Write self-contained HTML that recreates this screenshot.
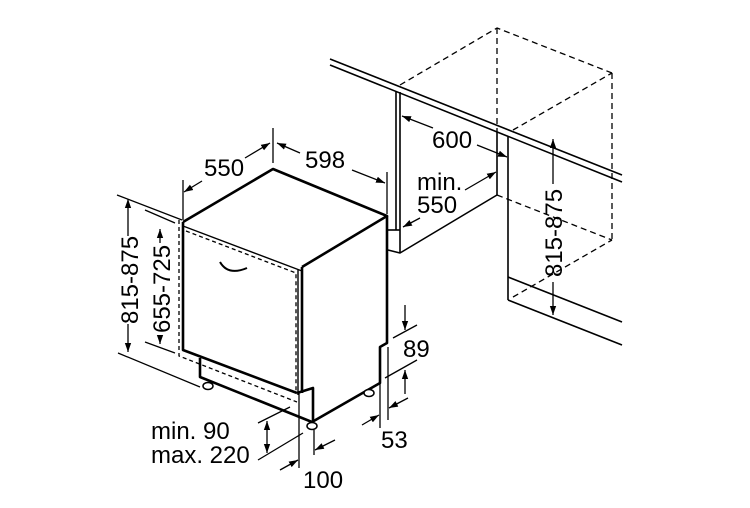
<!DOCTYPE html>
<html><head><style>
html,body{margin:0;padding:0;background:#fff;}
svg{display:block;}
text{font-family:"Liberation Sans",Arial,sans-serif;fill:#000;}
</style></head><body>
<svg width="750" height="508" viewBox="0 0 750 508" xmlns="http://www.w3.org/2000/svg">
<defs>
<marker id="a" viewBox="0 0 10 10" refX="10" refY="5" markerWidth="9" markerHeight="9" orient="auto-start-reverse" markerUnits="userSpaceOnUse">
<path d="M0,1.5 L10,5 L0,8.5 Z" fill="#000"/></marker>
</defs>
<g fill="none" stroke="#000" stroke-linejoin="round">
<g stroke-width="2.6">
<path d="M183,222 L273,169 L387,216 L302,267"/>
<path d="M387,216 L387,343 L380,347 L380,383 L312,422"/>
<path d="M183,222 L183,350 L297,393"/>
<path d="M200,358 L200,377 L312,422"/>
<path d="M297,393 L313,388 L313,422"/>
<path d="M302,267 L302,393"/>
</g>
<g stroke-width="1.4">
<path d="M183,226 L302,271"/>
<path d="M298,270 L298,395"/>
<path d="M220,262 Q228,276 247,268" stroke-width="2"/>
</g>
<g stroke-width="1.3" stroke-dasharray="4,3">
<path d="M179,220 L179,356 L297,402"/>
<path d="M186,231 L296,273 L296,392"/>
</g>
<g stroke-width="1.5" fill="#fff">
<ellipse cx="208" cy="386" rx="5" ry="3.5"/>
<ellipse cx="312" cy="426" rx="5" ry="3.5"/>
<ellipse cx="369" cy="393" rx="5" ry="3.5"/>
</g>
<g stroke-width="1.6">
<path d="M330,59 L622,175"/>
<path d="M330,65 L622,182"/>
<path d="M396,92 L396,230"/>
<path d="M400,92 L400,253"/>
<path d="M388,230 L400,230"/>
<path d="M388,250 L400,253 L497,195"/>
<path d="M497,132 L497,195"/>
<path d="M508,137 L508,300"/>
<path d="M508,277 L622,322"/>
<path d="M508,300 L622,345"/>
</g>
<g stroke-width="1.3" stroke-dasharray="6,4">
<path d="M400,85 L497,28 L612,73"/>
<path d="M497,28 L497,132"/>
<path d="M612,73 L612,240"/>
<path d="M513,130 L612,73"/>
<path d="M497,195 L612,240"/>
<path d="M513,297 L612,240"/>
</g>
<g stroke-width="1.3">
<path d="M183,180 L183,220"/>
<path d="M273,128 L273,163"/>
<path d="M387,172 L387,214"/>
<path d="M184,192 L202,181" marker-start="url(#a)"/>
<path d="M245,158 L270,143" marker-end="url(#a)"/>
<path d="M277,143 L300,153" marker-start="url(#a)"/>
<path d="M352,170 L385,183" marker-end="url(#a)"/>
<path d="M117,195 L182,220"/>
<path d="M118,353 L200,387"/>
<path d="M145,210 L175,223"/>
<path d="M145,342 L175,353"/>
<path d="M128,199 L128,236" marker-start="url(#a)"/>
<path d="M128,324 L128,352" marker-end="url(#a)"/>
<path d="M160,229 L160,243" marker-start="url(#a)"/>
<path d="M160,335 L160,344" marker-end="url(#a)"/>
<path d="M402,116 L433,128" marker-start="url(#a)"/>
<path d="M477,145 L507,157" marker-end="url(#a)"/>
<path d="M465,190 L496,172" marker-end="url(#a)"/>
<path d="M403,227 L420,218" marker-start="url(#a)"/>
<path d="M553,139 L553,184" marker-start="url(#a)"/>
<path d="M553,282 L553,315" marker-end="url(#a)"/>
<path d="M405,305 L405,330" marker-end="url(#a)"/>
<path d="M393,338 L417,325"/>
<path d="M385,378 L417,360"/>
<path d="M405,394 L405,370" marker-end="url(#a)"/>
<path d="M380,383 L380,428"/>
<path d="M388,347 L388,420"/>
<path d="M362,425 L379,415" marker-end="url(#a)"/>
<path d="M408,398 L389,408" marker-end="url(#a)"/>
<path d="M258,423 L290,407"/>
<path d="M258,460 L303,433"/>
<path d="M267,421 L267,453" marker-start="url(#a)" marker-end="url(#a)"/>
<path d="M299,393 L299,468"/>
<path d="M314,430 L314,455"/>
<path d="M280,470 L298,460" marker-end="url(#a)"/>
<path d="M335,440 L315,450" marker-end="url(#a)"/>
</g>
</g>
<g font-size="24">
<text x="204" y="176">550</text>
<text x="305" y="168">598</text>
<text x="432" y="148">600</text>
<text x="417" y="190">min.</text>
<text x="417" y="213">550</text>
<text x="403" y="357">89</text>
<text x="381" y="448">53</text>
<text x="151" y="439">min. 90</text>
<text x="151" y="463">max. 220</text>
<text x="303" y="488">100</text>
<text transform="translate(138,280) rotate(-90)" text-anchor="middle">815-875</text>
<text transform="translate(170,289) rotate(-90)" text-anchor="middle">655-725</text>
<text transform="translate(562,233) rotate(-90)" text-anchor="middle">815-875</text>
</g>
</svg>
</body></html>
